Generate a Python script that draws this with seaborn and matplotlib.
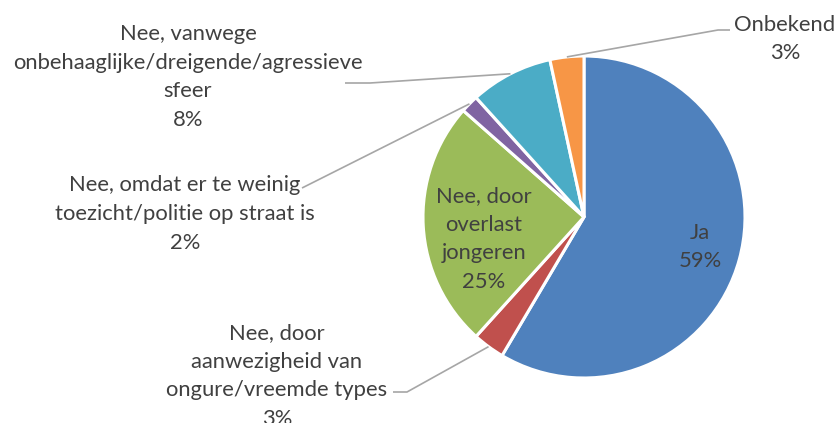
import matplotlib.pyplot as plt
import numpy as np
import seaborn as sns

# data
labels = ["Ja",
          "Nee, door\naanwezigheid van\nongure/vreemde types",
          "Nee, door\noverlast\njongeren",
          "Nee, omdat er te weinig\ntoezicht/politie op straat is",
          "Nee, vanwege\nonbehaaglijke/dreigende/agressieve\nsfeer",
          "Onbekend"]
values = [58.5, 3.2, 24.8, 1.8, 8.3, 3.4]
shown = ["59%", "3%", "25%", "2%", "8%", "3%"]
colors = ["#4F81BD", "#C0504D", "#9BBB59", "#8064A2", "#4BACC6", "#F79646"]

sns.set_theme(style="white")
plt.rcParams['font.family'] = ['Lato', 'DejaVu Sans']

W, H = 837, 423
fig = plt.figure(figsize=(W / 100, H / 100), dpi=100)
ax = fig.add_axes([0, 0, 1, 1])

cx, cy, r = 584, H - 217, 161
ax.pie(values, colors=colors, startangle=90, counterclock=False,
       center=(cx, cy), radius=r, frame=True,
       wedgeprops=dict(edgecolor='white', linewidth=2.2))
ax.set_xlim(0, W)
ax.set_ylim(0, H)
ax.set_aspect('equal')
ax.axis('off')

txt = dict(color='#404040', fontsize=15.8, ha='center', va='center', linespacing=1.55)

# label centres in pixel space (x, y from top)
pos = [(700, 247), (277, 376), (484, 239), (185, 214), (188, 77), (785, 39)]
# leader line elbows (pixel space) for outside labels
elbow = {1: [(393, 392), (407, 392)],
         3: [(302, 188)],
         4: [(345, 83), (370, 83)],
         5: [(730, 30), (718, 30)]}

cum = np.cumsum(values) / sum(values)
start = np.concatenate([[0], cum[:-1]])
for i, (lab, pct) in enumerate(zip(labels, shown)):
    x, y = pos[i]
    ax.text(x, H - y, lab + "\n" + pct, **txt)
    if i in elbow:
        mid = (start[i] + cum[i]) / 2 * 2 * np.pi
        px = cx + r * np.sin(mid)
        py = cy + r * np.cos(mid)
        xs = [p[0] for p in elbow[i]] + [px]
        ys = [H - p[1] for p in elbow[i]] + [py]
        ax.plot(xs, ys, color='#A6A6A6', lw=1.2, solid_capstyle='butt')

fig.savefig("out.png", dpi=100)
